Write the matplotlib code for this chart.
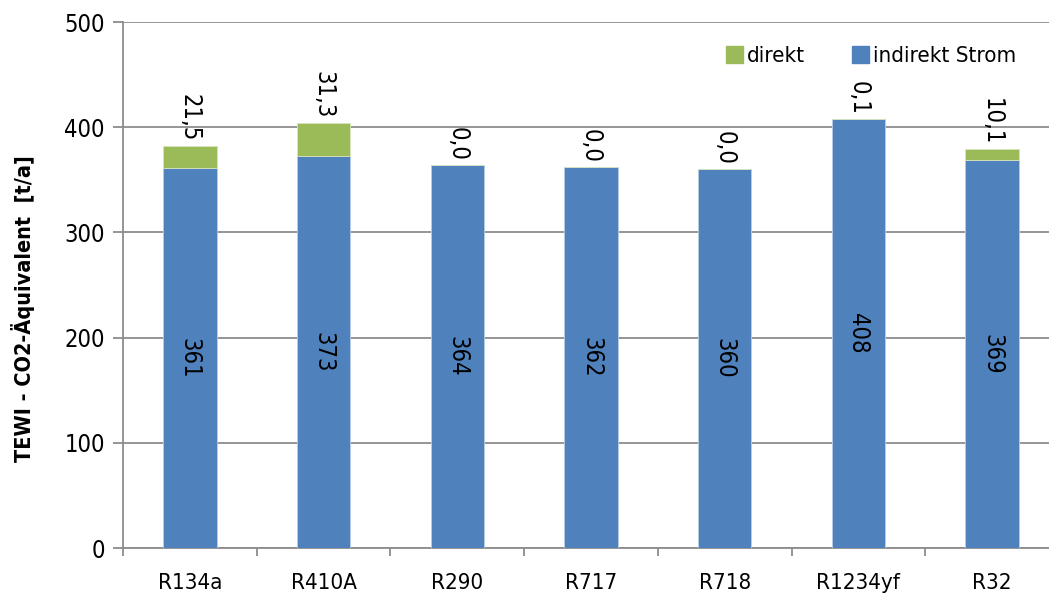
import matplotlib
matplotlib.use('Agg')
import matplotlib.pyplot as plt
from matplotlib.patches import Patch
import numpy as np

# Daten
kaeltemittel = ['R134a', 'R410A', 'R290', 'R717', 'R718', 'R1234yf', 'R32']
indirekt = [361, 373, 364, 362, 360, 408, 369]
direkt = [21.5, 31.3, 0.0, 0.0, 0.0, 0.1, 10.1]

plt.rcParams['font.family'] = ['DejaVu Sans']
plt.rcParams['font.stretch'] = 'condensed'

blau = '#4F81BD'
gruen = '#9BBB59'
grau = '#8C8C8C'

fig = plt.figure(figsize=(10.49, 5.95), dpi=100)
ax = fig.add_axes([123 / 1049, 47 / 595, 936 / 1049, 526 / 595])

x = np.arange(len(kaeltemittel))
b1 = ax.bar(x, indirekt, width=0.40, color=blau, edgecolor='#B9CDE5', linewidth=0.6, zorder=3)
b2 = ax.bar(x, direkt, width=0.40, bottom=indirekt, color=gruen, edgecolor='#D7E4BD', linewidth=0.6, zorder=3)

# Beschriftungen
for i in range(len(x)):
    ax.text(x[i], indirekt[i] / 2, f'{indirekt[i]}', rotation=270, ha='center', va='center',
            fontsize=17, zorder=4)
    ax.annotate(f'{direkt[i]:.1f}'.replace('.', ','), (x[i], indirekt[i] + direkt[i]),
                xytext=(0, 3), textcoords='offset points', rotation=270,
                ha='center', va='bottom', fontsize=17, zorder=4)

ax.set_xlim(-0.5, len(x) - 0.5)
ax.set_ylim(0, 500)
ax.set_yticks(range(0, 501, 100))
ax.yaxis.grid(True, color=grau, linewidth=1.3, zorder=0)

ax.set_xticks(np.arange(-0.5, len(x), 1))
ax.set_xticklabels([])
ax.set_xticks(x, minor=True)
ax.set_xticklabels(kaeltemittel, minor=True, fontsize=16)
ax.tick_params(axis='x', which='major', length=6, width=1.3, color=grau, direction='out')
ax.tick_params(axis='x', which='minor', length=0, pad=18)
ax.tick_params(axis='y', length=7, width=1.3, color=grau, labelsize=17, pad=6)

for s in ['top', 'right']:
    ax.spines[s].set_visible(False)
for s in ['left', 'bottom']:
    ax.spines[s].set_color(grau)
    ax.spines[s].set_linewidth(1.3)

ax.set_ylabel('TEWI - CO2-Äquivalent  [t/a]', fontsize=15.5, fontweight='bold')
ax.yaxis.set_label_coords(-0.094, 0.456)

handles = [Patch(color=gruen), Patch(color=blau)]
ax.legend(handles, ['direkt', 'indirekt Strom'], loc='upper right', ncol=2, frameon=False,
          fontsize=16, bbox_to_anchor=(0.964, 0.972), borderaxespad=0, handlelength=0.75,
          handleheight=0.85, handletextpad=0.2, columnspacing=2.1)

fig.savefig('out.png', dpi=100)
